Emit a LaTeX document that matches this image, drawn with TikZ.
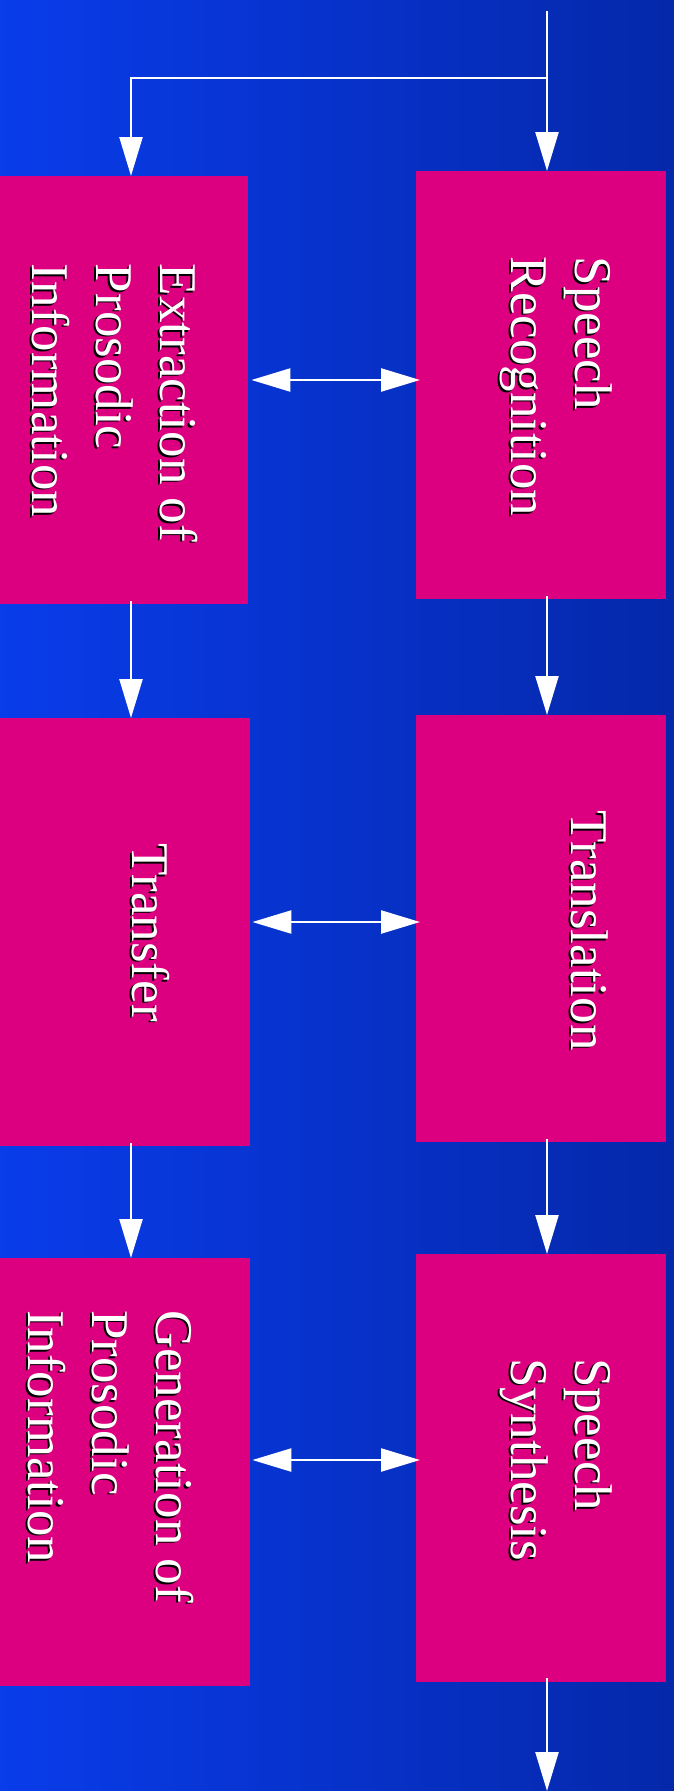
\documentclass[tikz,border=0pt]{standalone}
\usepackage{fontspec}
\setmainfont{Liberation Serif}
\usetikzlibrary{arrows.meta,calc}
\definecolor{bgleft}{RGB}{9,60,234}
\definecolor{bgright}{RGB}{5,40,170}
\definecolor{boxmag}{RGB}{220,0,128}
\tikzset{
  procbox/.style={rectangle, fill=boxmag, draw=none, inner sep=0pt,
    minimum width=250pt, minimum height=428pt, anchor=north west},
  lbl/.style={rotate=-90, align=left, inner sep=0pt, text=white,
    font=\fontsize{53}{64}\selectfont},
  lblshadow/.style={lbl, text=black},
  arr/.style={draw=white, line width=2.4pt, -{Triangle[length=39pt,width=23pt]}},
  darr/.style={draw=white, line width=2.4pt, {Triangle[length=39pt,width=23pt]}-{Triangle[length=39pt,width=23pt]}}
}
\begin{document}
\begin{tikzpicture}[x=1pt,y=-1pt]
\useasboundingbox (0,0) rectangle (674,1791);
\shade[left color=bgleft, right color=bgright] (0,0) rectangle (674,1791);

% boxes
\node[procbox, minimum width=248pt] (L1) at (0,176) {};
\node[procbox] (L2) at (0,718) {};
\node[procbox] (L3) at (0,1258) {};
\node[procbox, minimum height=428pt] (R1) at (416,171) {};
\node[procbox, minimum height=427pt] (R2) at (416,715) {};
\node[procbox] (R3) at (416,1254) {};

% column coordinates
\coordinate (cl) at (131,0);
\coordinate (cr) at (547,0);
\coordinate (in) at (547,11);
\coordinate (br) at (547,78);
\coordinate (bl) at (131,78);
\coordinate (out) at (547,1791);

% arrows
\draw[arr] (in) -- (R1.north -| cr);
\draw[arr] (br) -- (bl) -- (L1.north -| cl);
\draw[arr] ([yshift=3pt]L1.south -| cl) -- (L2.north -| cl);
\draw[arr] ([yshift=3pt]L2.south -| cl) -- (L3.north -| cl);
\draw[arr] ([yshift=3pt]R1.south -| cr) -- (R2.north -| cr);
\draw[arr] ([yshift=3pt]R2.south -| cr) -- (R3.north -| cr);
\draw[arr] ([yshift=4pt]R3.south -| cr) -- (out);
\draw[darr] ([xshift=3pt]L1.east |- 0,380) -- ([xshift=4pt]R1.west |- 0,380);
\draw[darr] ([xshift=2pt]L2.east |- 0,922) -- ([xshift=4pt]R2.west |- 0,922);
\draw[darr] ([xshift=2pt]L3.east |- 0,1460) -- ([xshift=4pt]R3.west |- 0,1460);

% label shadows
\node[lblshadow] (t1s) at (554.3,388) {Speech\\Recognition};
\node[lblshadow] (t2s) at (113,404.5) {Extraction of\\Prosodic\\Information};
\node[lblshadow] (t3s) at (588,932.2) {Translation};
\node[lblshadow] (t4s) at (149,934.3) {Transfer};
\node[lblshadow] (t5s) at (109,1458) {Generation of\\Prosodic\\Information};
\node[lblshadow] (t6s) at (554.4,1461.1) {Speech\\Synthesis};

% labels
\node[lbl] (t1) at (556.3,386.5) {Speech\\Recognition};
\node[lbl] (t2) at (115,403) {Extraction of\\Prosodic\\Information};
\node[lbl] (t3) at (590,930.7) {Translation};
\node[lbl] (t4) at (151,932.8) {Transfer};
\node[lbl] (t5) at (111,1456.5) {Generation of\\Prosodic\\Information};
\node[lbl] (t6) at (556.4,1459.6) {Speech\\Synthesis};
\end{tikzpicture}
\end{document}
